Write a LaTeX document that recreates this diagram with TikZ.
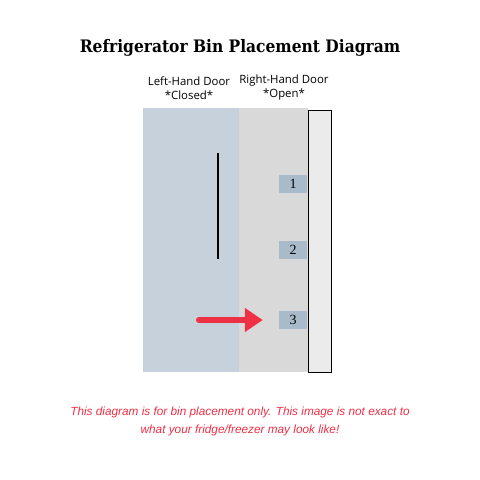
\documentclass[tikz,border=0pt]{standalone}
\usepackage{fontspec}
\setmainfont{DejaVu Serif Condensed}
\newfontfamily\labelfont{Open Sans}
\newfontfamily\notefont{Liberation Sans}
\newfontfamily\binfont{Liberation Serif}
\usetikzlibrary{arrows.meta}

\definecolor{closedgray}{HTML}{C7D1DB}
\definecolor{opengray}{HTML}{D9D9D9}
\definecolor{edgegray}{HTML}{EBEBEB}
\definecolor{binblue}{HTML}{A9BBCA}
\definecolor{warnred}{HTML}{EE3045}

\def\closeddoor{(143,108) rectangle (239,372)}
\def\opendoor{(239,108) rectangle (308,372)}
\def\dooredge{(308,110) rectangle (331,372)}

\tikzset{
  bin/.style={fill=binblue, minimum width=28pt, minimum height=18pt, inner sep=0pt, font=\binfont\fontsize{14}{14}\selectfont},
  doorlabel/.style={align=center, font=\labelfont\fontsize{11.4}{14}\selectfont},
}

\begin{document}
\begin{tikzpicture}[x=1pt,y=-1pt]
                  \useasboundingbox[fill=white] (0,0) rectangle (480,480);
                  \fill[closedgray] \closeddoor;
                  \fill[opengray] \opendoor;
                  \draw[fill=edgegray, line width=0.9pt] \dooredge;
                  \draw[line width=2pt] (218,153) -- (218,259);
                  \node[bin] (bin1) at (293,184) {1};
                  \node[bin] (bin2) at (293,250) {2};
                  \node[bin] (bin3) at (293,320) {3};
                  \coordinate (arrowtail) at (199,320);
                  \draw[warnred, line width=6pt, line cap=round, -{Triangle[length=18pt,width=23pt]}, shorten >=16pt] (arrowtail) -- (bin3.west);
                  \node[font=\bfseries\fontsize{17.2}{20}\selectfont] (title) at (240,48) {Refrigerator Bin Placement Diagram};
                  \node[doorlabel] (leftlabel) at (189,88) {Left-Hand Door\\*Closed*};
                  \node[doorlabel] (rightlabel) at (284,88) {Right-Hand Door\\*Open*};
                  \node[align=center, text=warnred, font=\notefont\itshape\fontsize{11.8}{18}\selectfont] (note) at (240,421) {This diagram is for bin placement only. This image is not exact to\\what your fridge/freezer may look like!};
                \end{tikzpicture}
\end{document}
